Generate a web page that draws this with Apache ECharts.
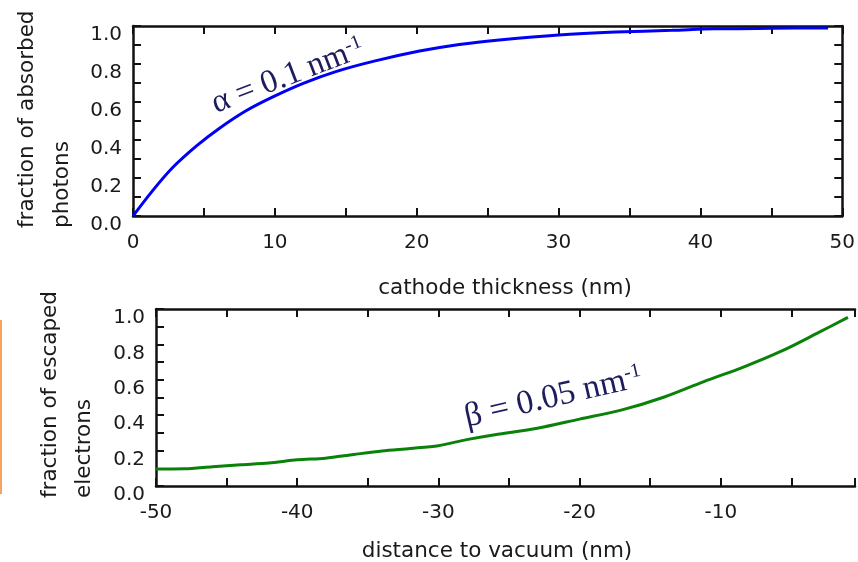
<!DOCTYPE html>
<html><head><meta charset="utf-8">
<script src="https://cdn.jsdelivr.net/npm/echarts@6/dist/echarts.min.js"></script>
<style>html,body{margin:0;padding:0;background:#fff}#c{width:858px;height:562px}</style>
</head><body><div id="c"></div>
<script>
// ---- data ----
const thicknessNm      = [0, 1.4, 2.8, 4.5, 6.1, 8.0, 9.9, 12.0, 14.3, 17.0, 20.2, 23.0, 26.0, 30.0, 34.0, 38.0, 41.0, 45.0, 49.0];
const absorbedFraction = [0, 0.135, 0.255, 0.37, 0.462, 0.555, 0.628, 0.698, 0.76, 0.815, 0.868, 0.903, 0.928, 0.953, 0.968, 0.977, 0.985, 0.988, 0.99];
const distanceNm       = [-50, -48, -46, -44, -42, -40, -38, -36, -34, -32, -30, -28, -26, -23, -20, -17, -14, -11.2, -8.4, -5.6, -3.2, -1.0];
const escapedFraction  = [0.096, 0.097, 0.109, 0.12, 0.13, 0.148, 0.157, 0.178, 0.198, 0.212, 0.228, 0.262, 0.29, 0.326, 0.378, 0.43, 0.503, 0.59, 0.672, 0.766, 0.862, 0.953];
const topXLabels    = [0, 10, 20, 30, 40, 50];
const bottomXLabels = [-50, -40, -30, -20, -10];
const yLabels       = ['0.0', '0.2', '0.4', '0.6', '0.8', '1.0'];

const AX = '#111';
const TXT = '#1a1a1a';
const SANS = 'DejaVu Sans';

function xAxisCfg(gridIndex, position, min, max, labels, show) {
  return {
    type: 'value', gridIndex, position, min, max, interval: 5,
    axisLine: { show: true, onZero: false, lineStyle: { color: AX, width: 2.5 } },
    axisTick: { show: true, inside: true, length: 8, lineStyle: { color: AX, width: 2 } },
    splitLine: { show: false },
    axisLabel: {
      show, margin: 17, color: TXT, fontFamily: SANS, fontSize: 20,
      showMinLabel: true, showMaxLabel: true,
      formatter: v => labels.includes(Math.round(v * 100) / 100) ? String(v) : ''
    }
  };
}
function yAxisCfg(gridIndex, position, show) {
  return {
    type: 'value', gridIndex, position, min: 0, max: 1, interval: 0.1,
    axisLine: { show: true, onZero: false, lineStyle: { color: AX, width: 2.5 } },
    axisTick: { show: true, inside: true, length: 8, lineStyle: { color: AX, width: 2 } },
    splitLine: { show: false },
    axisLabel: {
      show, margin: 11, color: TXT, fontFamily: SANS, fontSize: 20, verticalAlign: 'top', lineHeight: 18,
      formatter: v => { const s = v.toFixed(1); return yLabels.includes(s) ? s : ''; }
    }
  };
}

const chart = echarts.init(document.getElementById('c'), null, { renderer: 'canvas' });
chart.setOption({
  backgroundColor: '#fff',
  animation: false,
  grid: [
    { left: 133, top: 26, width: 711, height: 190 },
    { left: 156, top: 309, right: 0, height: 177 }
  ],
  xAxis: [
    xAxisCfg(0, 'bottom', 0, 50, topXLabels, true),
    xAxisCfg(0, 'top', 0, 50, topXLabels, false),
    xAxisCfg(1, 'bottom', -50, -0.5, bottomXLabels, true),
    xAxisCfg(1, 'top', -50, -0.5, bottomXLabels, false)
  ],
  yAxis: [
    yAxisCfg(0, 'left', true),
    yAxisCfg(0, 'right', false),
    yAxisCfg(1, 'left', true)
  ],
  series: [
    {
      type: 'line', xAxisIndex: 0, yAxisIndex: 0, showSymbol: false, smooth: 0.3,
      lineStyle: { color: '#0000f5', width: 3 },
      data: thicknessNm.map((x, i) => [x, absorbedFraction[i]])
    },
    {
      type: 'line', xAxisIndex: 2, yAxisIndex: 2, showSymbol: false, smooth: 0.3,
      lineStyle: { color: '#0a820a', width: 3 },
      data: distanceNm.map((x, i) => [x, escapedFraction[i]])
    }
  ],
  graphic: [
    { type: 'text', x: 505, y: 288, style: { text: 'cathode thickness (nm)', align: 'center', verticalAlign: 'middle', fontFamily: SANS, fontSize: 21.5, fill: TXT } },
    { type: 'text', x: 497, y: 551, style: { text: 'distance to vacuum (nm)', align: 'center', verticalAlign: 'middle', fontFamily: SANS, fontSize: 21.5, fill: TXT } },
    { type: 'text', x: 10, y: 228, rotation: Math.PI / 2, style: { text: 'fraction of absorbed\nphotons', align: 'left', verticalAlign: 'top', lineHeight: 35, fontFamily: SANS, fontSize: 21.5, fill: TXT } },
    { type: 'text', x: 33, y: 498, rotation: Math.PI / 2, style: { text: 'fraction of escaped\nelectrons', align: 'left', verticalAlign: 'top', lineHeight: 34, fontFamily: SANS, fontSize: 21.5, fill: TXT } },
    { type: 'text', x: 213, y: 105, rotation: 21 * Math.PI / 180, z: 10,
      style: { text: '{a|α = 0.1 nm}{s|-1}', align: 'left', verticalAlign: 'middle',
        rich: {
          a: { fontFamily: 'Liberation Serif', fontSize: 33, lineHeight: 33, fill: '#1d1d5e' },
          s: { fontFamily: 'Liberation Serif', fontSize: 20, lineHeight: 20, fill: '#1d1d5e', verticalAlign: 'top' }
        } } },
    { type: 'text', x: 465, y: 418, rotation: 13 * Math.PI / 180, z: 10,
      style: { text: '{a|β = 0.05 nm}{s|-1}', align: 'left', verticalAlign: 'middle',
        rich: {
          a: { fontFamily: 'Liberation Serif', fontSize: 34, lineHeight: 34, fill: '#1d1d5e' },
          s: { fontFamily: 'Liberation Serif', fontSize: 20, lineHeight: 20, fill: '#1d1d5e', verticalAlign: 'top' }
        } } },
    { type: 'line', shape: { x1: 1, y1: 320, x2: 1, y2: 494 }, style: { stroke: '#f6a35e', lineWidth: 2 } }
  ]
});
</script></body></html>
